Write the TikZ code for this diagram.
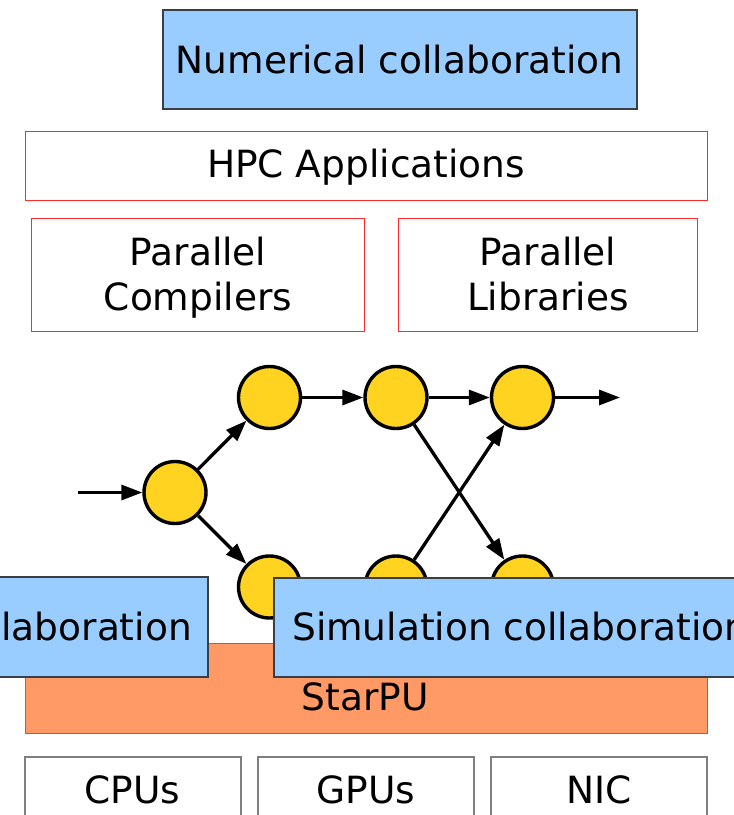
\documentclass[tikz,border=0pt]{standalone}
\usepackage{fontspec}
\setmainfont{DejaVu Sans}
\usetikzlibrary{arrows.meta}
\definecolor{blueFill}{HTML}{99CCFF}
\definecolor{blueLine}{HTML}{3A3F45}
\definecolor{redLine}{HTML}{FF2A2A}
\definecolor{orangeFill}{HTML}{FF9966}
\definecolor{orangeLine}{HTML}{FF420E}
\definecolor{grayLine}{HTML}{7F7F7F}
\definecolor{dotFill}{HTML}{FFD320}
\tikzset{
  bigtext/.style={font=\fontsize{37.5}{45}\selectfont, inner sep=0pt},
  bluebox/.style={draw=blueLine, fill=blueFill, line width=1.5pt},
  redbox/.style={draw=redLine, line width=1pt},
  hwbox/.style={draw=grayLine, line width=1.5pt},
  dot/.style={circle, draw=black, fill=dotFill, line width=3.4pt, minimum size=62pt, inner sep=0pt},
  flow/.style={line width=3.3pt, -{Triangle[length=21pt,width=15pt]}}
}
\begin{document}
\begin{tikzpicture}[x=1pt,y=-1pt]
\useasboundingbox (0,0) rectangle (734,815);
\clip (0,0) rectangle (734,815);
\fill[white] (0,0) rectangle (734,815);
% top blue box
\node[bluebox, minimum width=474pt, minimum height=99pt, inner sep=0pt] (num) at (400,59.5) {};
\node[bigtext, anchor=base] (numT) at (399.5,73) {Numerical collaboration};
% HPC
\node[redbox, minimum width=682pt, minimum height=69pt, inner sep=0pt] (hpc) at (366,165.5) {};
\node[bigtext, anchor=base] (hpcT) at (366,177) {HPC Applications};
% compilers / libraries
\node[redbox, minimum width=333pt, minimum height=113pt, inner sep=0pt] (comp) at (197.5,274.5) {};
\node[bigtext, align=center, anchor=north] (compT) at (198,236.5) {Parallel\\Compilers};
\node[redbox, minimum width=299pt, minimum height=113pt, inner sep=0pt] (lib) at (547.5,274.5) {};
\node[bigtext, align=center, anchor=north] (libT) at (548,236.5) {Parallel\\Libraries};
% graph
\node[dot] (a) at (175,492.5) {};
\node[dot] (b) at (269.5,397.5) {};
\node[dot] (c) at (396,397.5) {};
\node[dot] (d) at (522.5,397.5) {};
\node[dot] (e) at (269.5,587) {};
\node[dot] (f) at (396,587) {};
\node[dot] (g) at (522.5,587) {};
\coordinate (in) at (78,492.5);
\coordinate (out) at (620,397.5);
\draw[flow] (in) -- (a);
\draw[flow] (a) -- (b);
\draw[flow] (a) -- (e);
\draw[flow] (b) -- (c);
\draw[flow] (c) -- (d);
\draw[flow] (c) -- (g);
\draw[flow] (f) -- (d);
\draw[flow] (d) -- (out);
% StarPU
\node[draw=orangeLine, fill=orangeFill, line width=1pt, minimum width=682pt, minimum height=90pt, inner sep=0pt] (starpu) at (366,688) {};
\node[bigtext, anchor=base] (starpuT) at (365,710) {StarPU};
% overlapping blue boxes
\node[bluebox, minimum width=218pt, minimum height=100pt, inner sep=0pt] (leftc) at (99,627) {};
\node[bigtext, anchor=base east] (leftcT) at (192,640) {laboration};
\node[bluebox, minimum width=470pt, minimum height=99pt, inner sep=0pt] (simc) at (509,627.5) {};
\node[bigtext, anchor=base west] (simcT) at (292,640) {Simulation collaboration};
% hardware
\node[hwbox, minimum width=216pt, minimum height=80pt, inner sep=0pt] (cpu) at (133,797) {};
\node[bigtext, anchor=base] (cpuT) at (132.5,803) {CPUs};
\node[hwbox, minimum width=216pt, minimum height=80pt, inner sep=0pt] (gpu) at (366,797) {};
\node[bigtext, anchor=base] (gpuT) at (366,803) {GPUs};
\node[hwbox, minimum width=216pt, minimum height=80pt, inner sep=0pt] (nic) at (599,797) {};
\node[bigtext, anchor=base] (nicT) at (599.5,803) {NIC};
\end{tikzpicture}
\end{document}
